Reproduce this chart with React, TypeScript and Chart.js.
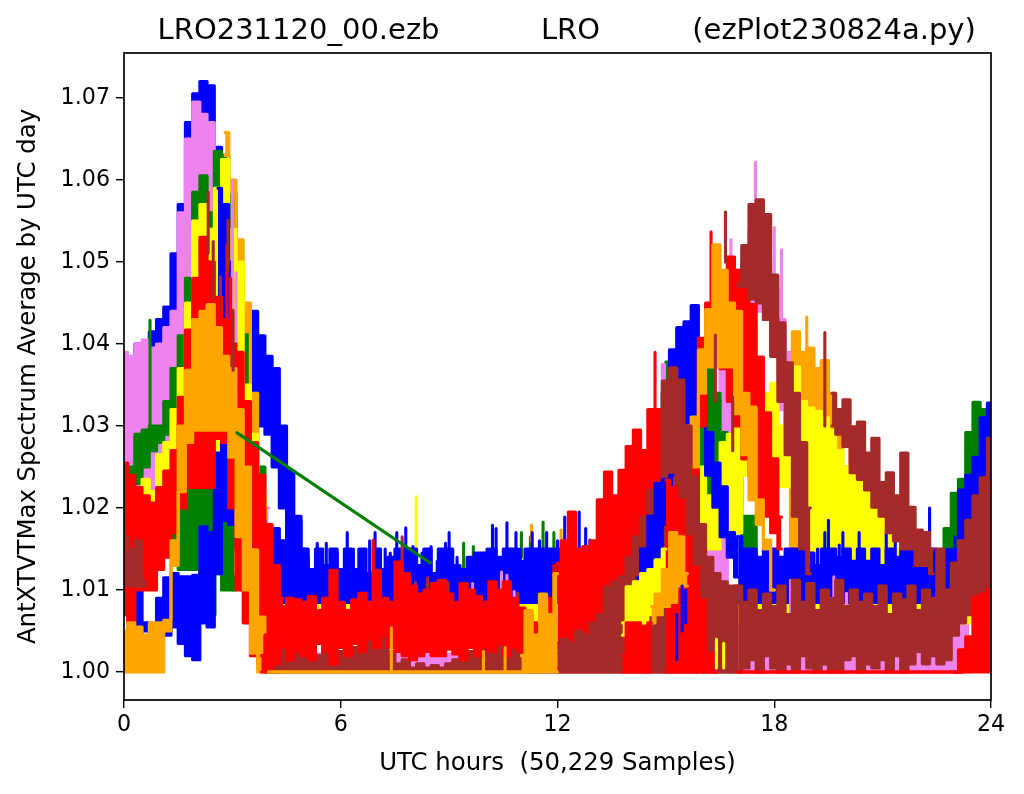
import React, { useEffect, useRef } from "react";
import { Chart, registerables } from "chart.js";
Chart.register(...registerables);

// Each band has an upper and a lower edge on a 0.2 hour slot grid (slot 60 = 12h).
const titleText = "  LRO231120_00.ezb           LRO          (ezPlot230824a.py)";
const xLabel = "UTC hours  (50,229 Samples)";
const yLabel = "AntXTVTMax Spectrum Average by UTC day";
const xTicks = [0, 6, 12, 18, 24];
const yTicks = [1.0, 1.01, 1.02, 1.03, 1.04, 1.05, 1.06, 1.07];

const blueAHi = [385,375,400,350,415,430,445,510,570,670,705,720,715,640,570,520,470,380,440,410,385,370,300,245,190,150];
const blueALo = [250,250,250,250,250,250,250,250,250,250,250,250,250,250,250,250,250,330,340,300,290,250,200,160,125,105];
const violetAmHi = [390,385,400,405,395,400,420,440,560,650,695,680,670,590,570,560,430,340,280,200,130];
const violetPmHi = [200,375,350,300,270,260,255,280,300,430,430,470,500,540,540,500,470,430,390,340,300,270,225,220,180,170,200,130,120,140,110,130,115,125,110,125,110,120,105,115,110,120,130,150,160,180,200];
const violetPmLo = [100,100,100,100,100,100,100,100,100,100,200,200,400,450,440,430,390,320,260,190,150,100,100,100,100,100,100,100,100,100,100,100,100,100,100,100,100,100,100,100,100,100,100,100,100,100,100];
const violetFloorHi = [22,22];
const violetFloorPmHi = [60,60];
const greenAmHi = [240,250,290,295,300,300,330,370,410,480,585,605,560,635,630,585,470,415,340,250,150];
const greenAmLo = [220,220,230,250,270,280,290,140,125,125,125,120,120,120,100,100,190,250,250,200,130];
const greenPmHi = [378,330,200,220,300,340,370,340,292,270,255,190,190,100];
const greenPmLo = [290,290,150,150,290,190,190,230,240,200,170,140,140,90];
const greenEndHi = [130,145,175,218,235,292,329,320,300];
const orangeBAmHi = [658,600,527,450,340,220,100];
const orangeBAmLo = [630,585,470,415,250,100,60];
const orangeBPmHi = [330,415,390,395,370,380,340,320,250,290,280,230,225,195,160];
const yellowAmHi = [130,110,170,235,220,265,280,320,370,450,550,570,540,590,625,540,500,350,290,225,110];
const yellowAmLo = [110,110,120,130,160,200,220,230,230,230,230,230,225,225,225,200,120,100,80,70,60];
const yellowFloorHi = [88,88];
const yellowPmHi = [340,320,250,215,210,280,290,360,457,420,344,340,352,300,360,372,330,322,318,310,295,270,250,244,235,230,220,195,180,150,120];
const yellowPmLo = [310,250,150,150,150,170,170,170,240,240,230,230,226,226,226,200,150,130,100,100,100,100,100,100,100,100,100,100,100,100,100];
const blueMornHi = [108,100,60,55,90,115,120,116,116,118,177,170,267,295,240,170,120];
const blueMornLo = [45,40,50,45,45,45,55,35,20,15,60,55,120,185,180,150,110];
const blueEdgeHi = [590,570,500];
const blueEdgeLo = [290,290,300];
const blueBandHi = [150,175,185,165,175,160,175,185,150,125,150,130,150,125,150,125,150,120,150,125,140,150,150,150,130,150,120,150,150,130,125,140,145,145,150,140,150,150,135,150,150,150,150,150,150,150,150,150,150];
const blueHumpHi = [300,340,393,420,427,447,372,292,255,226,170,165];
const blueHumpLo = [280,280,290,300,300,310,311,240,201,165,140,116];
const bluePmHi = [165,150,150,140,150,150,140,150,150,150,145,130,150,150,140,150,135,150,135,150,130,150,140,150,150,140,150,150,137,149,150,222,240,262,310,328];
const blueIslandHi = [115,150,190,230,235,240];
const blueIslandLo = [100,115,125,140,180,215];
const redAmHi = [255,240,225,215,206,225,245,270,335,417,480,530,500,457,430,400,390,330,280,240,180,130,90];
const redAmLo = [70,60,100,100,100,125,140,170,200,225,225,225,225,285,280,200,100,60,20,10,0,0,0];
const redPmHi = [133,160,195,150,153,160,210,244,215,246,275,295,270,320,320,300,290,270,260,290,407,450,470,480,506,490,470,448,384,316,260,189];
const redPmLo = [0,0,0,0,0,0,0,0,0,0,0,0,0,0,0,0,0,0,0,0,300,400,400,370,330,300,260,240,210,190,170,150];
const orangeAmHi = [50,60,55,45,60,60,63,160,300,368,430,440,448,420,385,370,320,250,149,67,43,40,35];
const orangeAmLo = [0,0,0,0,0,0,50,130,220,280,295,295,295,295,295,262,165,100,23,0,0,0,0];
const orangePmHi = [300,311,393,442,521,490,450,440,340,323,210,161,100];
const orangePmLo = [280,250,340,372,372,372,372,315,265,210,180,150,100];
const brownLeftHi = [165,150,160,110];
const brownDayHi = [5,10,30,20,40,25,35,20,30,45,25,40,30,50,55,35,45,25,10,15,5,10,5,8,5,10,15,30,25,40,30,45,35,20,40,30,25,40,20,30,35];
const brownRampHi = [30,40,35,50,45,60,70,104,110,116,140,165,189,222,230,355,371,356,300,238,180,140,120,110,105,105];
const brownPatchHi = [105,100,95,105,100,105];
const brownBandHi = [105,85,100,75,95,80,105,70,112,85,108,75,100,90,112,80,100,85,95,80,105,70,95,88,105,75,100,90,150,100,133,160,185,215,237,285];
const brownBandLo = [0,5,15,0,20,5,0,10,0,20,5,0,10,0,0,15,20,0,10,5,15,0,20,0,10,25,10,20,10,15,45,60,70,80,80,90];
const brownHumpAHi = [474,520,570,576,558,484,426,377,340,280,200];
const brownHumpALo = [470,470,455,450,430,385,330,265,190,150,120];
const brownHumpBHi = [340,320,332,299,305,267,285,231,243,215,267,201,173,170,150];
const brownHumpBLo = [300,290,275,243,235,222,201,190,170,160,150,150,130,130,120];
const redCHi = [234,225,210,165,128,88,23,0];
const yellowIslandHi = [60,104,110,120,125,137,150];
const yellowIslandLo = [45,60,55,60,70,80,100];
const orangeIslandHi = [80,95,125,170,165,120];
const orangeIslandLo = [60,70,80,85,105,105];
const redLowHi = [20,60,60,55,60];
const redBandHi = [20,45,85,80,90,88,85,92,75,90,124,85,75,88,96,85,124,90,85,134,120,105,95,100,108,112,95,85,108,100,92,85,110,100,110,90,78,70,60,65,90,130];
const redBandLo = [0,0,10,30,15,25,20,15,35,25,10,30,20,35,25,40,30,45,30,25,20,15,20,25,20,20,28,22,15,30,20,30,25,35,20,30,25,15,20,15,10,5];
const orangeEndHi = [20,75,45,95,70,120];
const redCornerHi = [0,27,43,91,95,100];
const baseLine = [0,0];

// vertical strokes: [hour, top, bottom]
const violetSpikes = [[9.65,108,60],[10.45,122,60],[10.6,118,60],[10.8,98,60],[18.45,112,60],[19.65,116,60],[20.0,96,60],[21.85,96,60]];
const violetPeaks = [[16.8,527,430],[17.48,622,500],[18.0,542,470],[18.2,515,430]];
const violetEdge = [[3.0,600,400],[3.1,487,400]];
const redEdge = [[2.85,520,380],[2.95,480,360]];
const yellowSpikes = [[8.09,214,100]];
const greenTeeth = [[9.4,157,125],[9.67,153,120],[9.95,145,105],[11.0,170,140],[11.25,165,130],[11.6,183,150],[11.9,170,140]];
const greenNeedles = [[0.72,429,300],[2.52,200,70],[3.0,200,100],[17.05,450,380],[17.4,384,300]];
const orangeTeeth = [[11.28,179,160],[12.1,173,150]];
const orangeBackNeedles = [[18.9,433,380]];
const brownNeedles = [[2.33,585,511],[2.47,525,457],[2.67,482,441],[2.88,551,490],[3.02,441,368],[7.7,165,90],[8.07,109,70],[8.4,115,70],[8.97,109,70],[10.9,96,60],[16.37,411,330],[16.65,561,500],[16.85,335,270],[19.4,414,300]];
const blueNeedles = [[15.3,70,15],[15.45,105,50],[15.55,100,60]];
const blueAmTeeth = [[4.82,150,120],[5.1,140,120],[5.35,157,120],[5.6,157,120],[5.9,145,120],[6.18,170,120],[6.35,150,120],[6.54,145,120],[6.8,160,120],[6.95,170,120],[7.23,150,120],[7.37,145,120],[7.55,170,120],[7.8,176,120],[8.0,153,120],[8.25,145,120],[8.5,153,120],[8.67,135,120],[8.9,157,120],[9.0,170,120],[9.22,140,120],[10.05,150,120],[10.2,179,120],[10.3,175,120],[10.6,182,120],[10.85,170,120],[10.97,150,120],[11.3,170,120],[11.5,160,120],[11.7,170,120],[12.0,160,120],[12.2,189,120],[12.6,195,120],[12.78,175,120],[12.9,161,120]];
const bluePmTeeth = [[18.7,161,120],[19.2,150,120],[19.4,170,120],[19.5,185,120],[19.8,155,120],[19.9,170,120],[20.1,150,120],[20.35,170,120],[20.75,145,120],[21.1,170,120],[21.35,160,120],[21.55,160,120],[21.7,173,120],[21.97,150,120],[22.15,160,120],[22.3,200,120],[22.55,137,120],[22.7,149,120],[23.0,165,120]];
const yellowNeedles = [[16.4,40,5],[16.6,35,5]];
const redNeedles = [[6.9,161,90]];
const redPeaks = [[14.7,390,300],[16.25,537,430]];
const orangeNeedles = [[7.4,54,0],[9.95,25,0],[10.55,30,0]];
const gapLineHours = [3.12, 8.48];
const gapLineValues = [292, 133];

const SLOT = 0.2;
const toY = (v: number) => 1 + v / 10000;

function buildDatasets() {
  const sets: any[] = [];
  const base = { pointRadius: 0, borderWidth: 3.1, borderCapStyle: "round", borderJoinStyle: "round", stepped: "middle" };
  const band = (color: string, start: number, hi: number[], lo: number[] | number, stride = 1) => {
    const at = (i: number) => (start + i * stride) * SLOT;
    sets.push({ ...base, borderColor: color, backgroundColor: color, fill: "+1", data: hi.map((v, i) => ({ x: at(i), y: toY(v) })) });
    sets.push({ ...base, borderColor: color, backgroundColor: color, fill: false, data: hi.map((_, i) => ({ x: at(i), y: toY(typeof lo === "number" ? lo : lo[i]) })) });
  };
  const needles = (color: string, list: number[][]) => {
    for (const [h, top, bottom] of list) {
      sets.push({ ...base, stepped: false, borderColor: color, fill: false, data: [{ x: h, y: toY(top) }, { x: h, y: toY(bottom) }] });
    }
  };
  band("blue", 0, blueAHi, blueALo);
  band("violet", 0, violetAmHi, 200);
  band("violet", 74, violetPmHi, violetPmLo);
  needles("violet", violetPeaks);
  band("violet", 20, violetFloorHi, 0, 40);
  band("violet", 84, violetFloorPmHi, 0, 33);
  band("green", 0, greenAmHi, greenAmLo);
  band("green", 75, greenPmHi, greenPmLo);
  band("green", 112, greenEndHi, 100);
  needles("green", greenTeeth);
  needles("green", greenNeedles);
  needles("orange", orangeTeeth);
  band("orange", 14, orangeBAmHi, orangeBAmLo);
  band("orange", 92, orangeBPmHi, 100);
  needles("orange", orangeBackNeedles);
  band("yellow", 0, yellowAmHi, yellowAmLo);
  band("yellow", 20, yellowFloorHi, 60, 40);
  band("yellow", 78, yellowPmHi, yellowPmLo);
  band("yellow", 82, yellowFloorHi, 60, 38);
  needles("yellow", yellowSpikes);
  band("blue", 13, blueEdgeHi, blueEdgeLo);
  needles("violet", violetEdge);
  band("blue", 1, blueMornHi, blueMornLo);
  band("blue", 17, blueBandHi, 85);
  needles("blue", blueAmTeeth);
  band("blue", 74, blueHumpHi, blueHumpLo);
  band("blue", 85, bluePmHi, 85);
  needles("blue", bluePmTeeth);
  needles("violet", violetSpikes);
  band("red", 0, redAmHi, redAmLo);
  needles("red", redEdge);
  band("red", 60, redPmHi, redPmLo);
  needles("red", redPeaks);
  band("orange", 0, orangeAmHi, orangeAmLo);
  band("orange", 78, orangePmHi, orangePmLo);
  band("brown", 0, brownLeftHi, 105);
  band("brown", 20, brownDayHi, 0);
  band("brown", 60, brownRampHi, 0);
  band("brown", 80, brownPatchHi, 0);
  band("brown", 85, brownBandHi, brownBandLo);
  band("brown", 85, brownHumpAHi, brownHumpALo);
  band("brown", 98, brownHumpBHi, brownHumpBLo);
  needles("brown", brownNeedles);
  band("blue", 71, blueIslandHi, blueIslandLo);
  band("red", 75, redCHi, 0);
  band("yellow", 69, yellowIslandHi, yellowIslandLo);
  band("orange", 73, orangeIslandHi, orangeIslandLo);
  band("red", 69, redLowHi, 0);
  needles("blue", blueNeedles);
  needles("yellow", yellowNeedles);
  band("red", 19, redBandHi, redBandLo);
  needles("red", redNeedles);
  band("red", 85, baseLine, 0, 31);
  band("orange", 20, baseLine, 0, 36);
  band("orange", 55, orangeEndHi, 0);
  needles("orange", orangeNeedles);
  band("red", 115, redCornerHi, 0);
  sets.push({ ...base, stepped: false, borderColor: "green", fill: false, data: gapLineHours.map((h, i) => ({ x: h, y: toY(gapLineValues[i]) })) });
  const n = sets.length;
  sets.forEach((s, i) => { s.order = n - i; });
  return sets;
}

const frame = {
  id: "frame",
  afterDraw(chart: any) {
    const { ctx, chartArea: a } = chart;
    ctx.save();
    ctx.strokeStyle = "#000";
    ctx.lineWidth = 1.7;
    ctx.strokeRect(a.left, a.top, a.right - a.left, a.bottom - a.top);
    ctx.restore();
  },
};

export default function App() {
  const ref = useRef<HTMLCanvasElement>(null);
  useEffect(() => {
    const font = "'DejaVu Sans'";
    const chart = new Chart(ref.current as any, {
      type: "line",
      data: { datasets: buildDatasets() },
      plugins: [frame],
      options: {
        animation: false,
        responsive: false,
        devicePixelRatio: 1,
        layout: { padding: { left: 0, right: 33, top: 0, bottom: 0 } },
        plugins: {
          legend: { display: false },
          tooltip: { enabled: false },
          title: {
            display: true,
            fullSize: false,
            text: titleText,
            color: "#000",
            font: { family: font, size: 29, weight: "normal" },
            padding: { top: 14, bottom: 4.2 },
          },
        },
        scales: {
          x: {
            type: "linear",
            min: 0,
            max: 24,
            afterBuildTicks: (axis: any) => { axis.ticks = xTicks.map((value) => ({ value })); },
            afterFit: (axis: any) => { axis.height = 94; },
            ticks: { color: "#000", font: { family: font, size: 22.2 }, maxRotation: 0, padding: 4 },
            grid: { drawOnChartArea: false, drawTicks: true, tickLength: 8, color: "#000", lineWidth: 1.4 },
            border: { display: false },
            title: { display: true, text: xLabel, color: "#000", font: { family: font, size: 24.4 }, padding: { top: 2, bottom: 16 } },
          },
          y: {
            type: "linear",
            min: 0.99659,
            max: 1.07549,
            afterBuildTicks: (axis: any) => { axis.ticks = yTicks.map((value) => ({ value })); },
            afterFit: (axis: any) => { axis.width = 124; },
            ticks: { color: "#000", font: { family: font, size: 22.2 }, padding: 6, callback: (v: any) => Number(v).toFixed(2) },
            grid: { drawOnChartArea: false, drawTicks: true, tickLength: 8, color: "#000", lineWidth: 1.4 },
            border: { display: false },
            title: { display: true, text: yLabel, color: "#000", font: { family: font, size: 24.4 }, padding: { top: 14, bottom: 0 } },
          },
        },
      } as any,
    });
    return () => chart.destroy();
  }, []);
  return <canvas ref={ref} width={1024} height={794} style={{ position: "absolute", left: 0, top: 0, display: "block" }} />;
}
